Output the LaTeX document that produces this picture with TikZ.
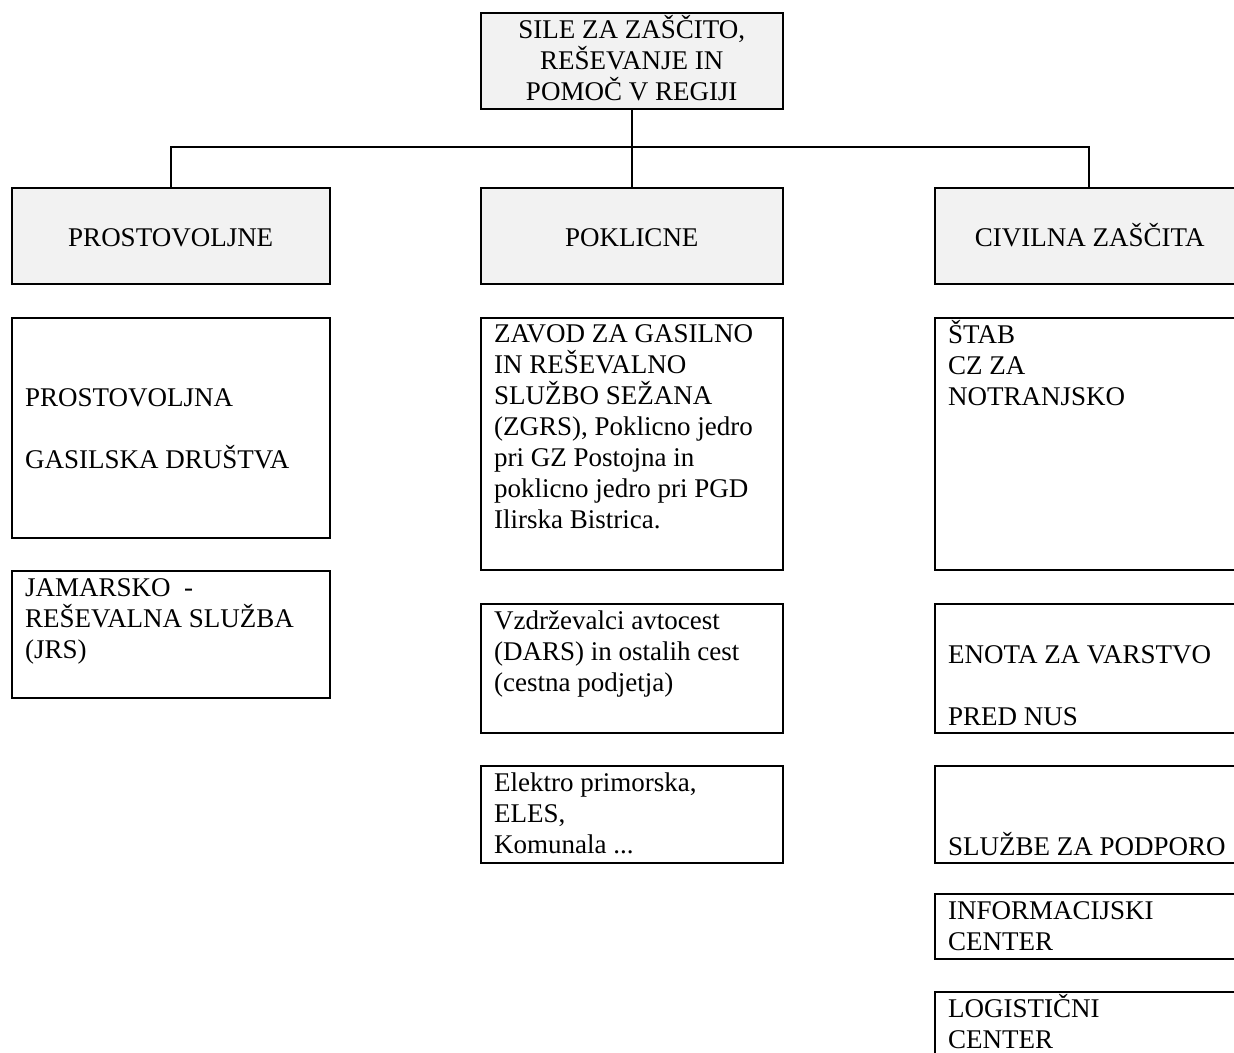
\documentclass[tikz,border=0pt]{standalone}
\usepackage{fontspec}
\setmainfont{Liberation Serif}
\usetikzlibrary{calc}

\definecolor{boxgray}{HTML}{F2F2F2}
\tikzset{
    orgbox/.style={draw, line width=1.5pt, rectangle, inner sep=0pt, anchor=north west},
    headbox/.style={orgbox, fill=boxgray},
    orgtext/.style={inner sep=0pt, align=left, anchor=base west,
        font=\fontsize{27}{31}\selectfont},
    headtext/.style={orgtext, align=center, anchor=base},
    link/.style={line width=1.5pt}
}

\begin{document}
\begin{tikzpicture}[x=1pt, y=-1pt]
            \useasboundingbox (0,0) rectangle (1234,1052);
            \clip (0,0) rectangle (1234,1052);
            \node[headbox, minimum width=302, minimum height=96] (sile) at (480,12) {};
            \node[headtext] at ([yshift=-88]sile.north) {SILE ZA ZAŠČITO,\\REŠEVANJE IN\\POMOČ V REGIJI};
            \coordinate (bus) at (631,147);

            % druga raven
            \node[headbox, minimum width=318, minimum height=96] (prost) at (11,187) {};
            \node[headbox, minimum width=302, minimum height=96] (poklic) at (480,187) {};
            \node[headbox, minimum width=308, minimum height=96] (civil) at (934,187) {};
            \node[headtext] at ([yshift=-59]prost.north) {PROSTOVOLJNE};
            \node[headtext] at ([yshift=-59]poklic.north) {POKLICNE};
            \node[headtext] at ([shift={(1,59)}]civil.north) {CIVILNA ZAŠČITA};

            \draw[link] (sile.south) -- (poklic.north);
            \draw[link] (prost.north) |- (civil.north |- bus) -- (civil.north);

            % prostovoljne
            \node[orgbox, minimum width=318, minimum height=220] (pgd) at (11,317) {};
            \node[orgtext] at ([shift={(14,151)}]pgd.north west) {PROSTOVOLJNA\\[31pt]GASILSKA DRUŠTVA};
            \node[orgbox, minimum width=318, minimum height=127] (jrs) at (11,570) {};
            \node[orgtext] at ([shift={(14,88)}]jrs.north west) {JAMARSKO\ \ -\\REŠEVALNA SLUŽBA\\(JRS)};

            % poklicne
            \node[orgbox, minimum width=302, minimum height=252] (zgrs) at (480,317) {};
            \node[orgtext] at ([shift={(14,211)}]zgrs.north west) {ZAVOD ZA GASILNO\\IN REŠEVALNO\\SLUŽBO SEŽANA\\(ZGRS), Poklicno jedro\\pri GZ Postojna in\\poklicno jedro pri PGD\\Ilirska Bistrica.};
            \node[orgbox, minimum width=302, minimum height=129] (dars) at (480,603) {};
            \node[orgtext] at ([shift={(14,88)}]dars.north west) {Vzdrževalci avtocest\\(DARS) in ostalih cest\\(cestna podjetja)};
            \node[orgbox, minimum width=302, minimum height=97] (elektro) at (480,765) {};
            \node[orgtext] at ([shift={(14,88)}]elektro.north west) {Elektro primorska,\\ELES,\\Komunala ...};

            % civilna zascita
            \node[orgbox, minimum width=308, minimum height=252] (stab) at (934,317) {};
            \node[orgtext] at ([shift={(14,88)}]stab.north west) {ŠTAB\\CZ ZA\\NOTRANJSKO};
            \node[orgbox, minimum width=308, minimum height=129] (nus) at (934,603) {};
            \node[orgtext] at ([shift={(14,122)}]nus.north west) {ENOTA ZA VARSTVO\\[31pt]PRED NUS};
            \node[orgbox, minimum width=308, minimum height=97] (podpora) at (934,765) {};
            \node[orgtext] at ([shift={(14,90)}]podpora.north west) {SLUŽBE ZA PODPORO};
            \node[orgbox, minimum width=308, minimum height=65] (info) at (934,893) {};
            \node[orgtext] at ([shift={(14,57)}]info.north west) {INFORMACIJSKI\\CENTER};
            \node[orgbox, minimum width=308, minimum height=90] (logist) at (934,991) {};
            \node[orgtext] at ([shift={(14,57)}]logist.north west) {LOGISTIČNI\\CENTER};
        \end{tikzpicture}
\end{document}
